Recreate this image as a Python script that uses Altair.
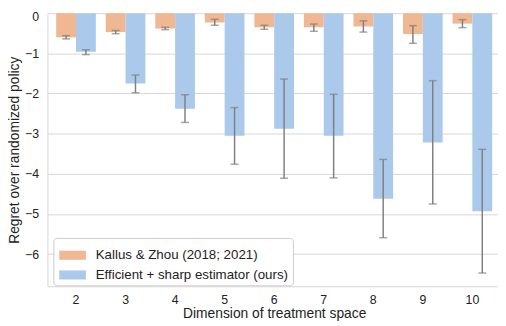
import altair as alt
import pandas as pd

dims = [2, 3, 4, 5, 6, 7, 8, 9, 10]
series = ["Kallus & Zhou (2018; 2021)", "Efficient + sharp estimator (ours)"]
colors = ["#efb792", "#abc9ea"]

kz_mean = [-0.60, -0.47, -0.38, -0.23, -0.35, -0.35, -0.33, -0.52, -0.26]
kz_lo = [-0.64, -0.51, -0.41, -0.30, -0.40, -0.45, -0.47, -0.75, -0.36]
kz_hi = [-0.56, -0.43, -0.35, -0.15, -0.30, -0.27, -0.19, -0.31, -0.16]

es_mean = [-0.96, -1.75, -2.38, -3.05, -2.88, -3.05, -4.62, -3.22, -4.93]
es_lo = [-1.03, -1.98, -2.72, -3.76, -4.11, -4.10, -5.59, -4.75, -6.47]
es_hi = [-0.91, -1.54, -2.03, -2.35, -1.64, -2.02, -3.64, -1.68, -3.39]

y_ticks = [0, -1, -2, -3, -4, -5, -6]

rows = []
for name, m, lo, hi in [(series[0], kz_mean, kz_lo, kz_hi), (series[1], es_mean, es_lo, es_hi)]:
    for d, a, b, c in zip(dims, m, lo, hi):
        rows.append({"dim": d, "series": name, "mean": a, "lo": b, "hi": c})
df = pd.DataFrame(rows)

FONT = "Liberation Sans"
GRID = "#d6d6d6"
ERR = "#808080"

x_enc = alt.X(
    "dim:O",
    scale=alt.Scale(paddingInner=0.2, paddingOuter=0.177, range=[0, 460]),
    axis=alt.Axis(
        title="Dimension of treatment space",
        labelAngle=0,
        ticks=False,
        labelPadding=7,
        titlePadding=1,
        domainColor=GRID,
        grid=False,
    ),
)
xo_enc = alt.XOffset("series:N", sort=series, scale=alt.Scale(paddingInner=0, paddingOuter=0))
y_scale = alt.Scale(domain=[-6.8, 0], nice=False, zero=False)

bars = alt.Chart(df).mark_bar().encode(
    x=x_enc,
    xOffset=xo_enc,
    y=alt.Y(
        "mean:Q",
        scale=y_scale,
        axis=alt.Axis(
            title="Regret over randomized policy",
            values=y_ticks,
            ticks=False,
            labelPadding=9,
            titlePadding=3,
            labelOffset=alt.condition("datum.value == 0", alt.value(3.5), alt.value(0)),
            domainColor=GRID,
            gridColor=GRID,
        ),
    ),
    color=alt.Color(
        "series:N",
        sort=series,
        scale=alt.Scale(domain=series, range=colors),
        legend=alt.Legend(
            title=None,
            orient="none",
            legendX=6,
            legendY=228,
            fillColor="white",
            strokeColor="#cccccc",
            cornerRadius=3,
            padding=4,
            symbolType="M-1,-0.34H1V0.34H-1Z",
            symbolSize=729,
            symbolStrokeWidth=0,
            symbolOpacity=1,
            symbolOffset=2,
            labelFontSize=13.5,
            labelOffset=10,
            labelLimit=400,
            rowPadding=0,
            labelFont=FONT,
            labelColor="#222222",
        ),
    ),
)

rules = alt.Chart(df).mark_rule(color=ERR, strokeWidth=1.5).encode(
    x=x_enc, xOffset=xo_enc, y=alt.Y("lo:Q", scale=y_scale), y2="hi:Q"
)
cap_lo = alt.Chart(df).mark_tick(color=ERR, thickness=1.5, size=8).encode(
    x=x_enc, xOffset=xo_enc, y=alt.Y("lo:Q", scale=y_scale)
)
cap_hi = alt.Chart(df).mark_tick(color=ERR, thickness=1.5, size=8).encode(
    x=x_enc, xOffset=xo_enc, y=alt.Y("hi:Q", scale=y_scale)
)

chart = (
    alt.layer(bars, rules, cap_lo, cap_hi)
    .properties(
        width=457,
        height=277,
        autosize=alt.AutoSizeParams(type="none"),
        padding={"left": 40, "top": 3, "right": 0, "bottom": 38},
    )
    .configure_view(stroke=None)
    .configure_axis(
        labelFont=FONT,
        titleFont=FONT,
        labelFontSize=12.5,
        titleFontSize=14,
        titleFontWeight="normal",
        labelColor="#222222",
        titleColor="#222222",
    )
)

chart.save("out.html", embed_options={"renderer": "svg", "actions": False})
